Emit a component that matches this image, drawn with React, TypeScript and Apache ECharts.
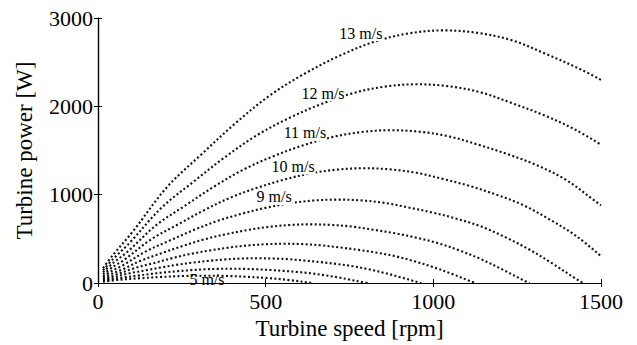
import React, { useEffect, useRef } from "react";
import * as echarts from "echarts";

// Wind-speed curves: [turbine speed (rpm), turbine power (W)]
const curve13: [number, number][] = [[15,170],[45,320],[103,580],[206,1087],[309,1459],[412,1816],[515,2131],[618,2374],[721,2574],[824,2731],[927,2826],[1030,2860],[1133,2831],[1236,2746],[1339,2588],[1442,2414],[1500,2300]];
const curve12: [number, number][] = [[15,145],[45,272],[95,458],[190,855],[285,1148],[380,1429],[475,1676],[570,1868],[665,2025],[760,2149],[855,2223],[950,2250],[1045,2228],[1140,2160],[1235,2036],[1330,1900],[1425,1733],[1500,1565]];
const curve11: [number, number][] = [[15,122],[45,228],[87,352],[174,657],[262,882],[349,1099],[436,1289],[523,1436],[610,1557],[698,1652],[785,1709],[872,1730],[959,1713],[1046,1661],[1134,1566],[1221,1460],[1308,1335],[1395,1170],[1482,930],[1500,880]];
const curve10: [number, number][] = [[15,100],[45,185],[79,266],[158,494],[238,663],[317,826],[396,969],[475,1079],[554,1170],[634,1242],[713,1284],[792,1300],[871,1287],[950,1248],[1030,1177],[1109,1098],[1188,1001],[1267,884],[1346,722],[1426,533],[1500,305]];
const curve9: [number, number][] = [[15,80],[45,146],[71,195],[143,359],[214,482],[285,600],[357,704],[428,784],[499,851],[570,902],[642,934],[713,945],[784,936],[856,907],[927,855],[998,798],[1070,728],[1141,643],[1212,524],[1283,387],[1355,222],[1426,47],[1447,0]];
const curve8: [number, number][] = [[15,63],[45,112],[75,158],[127,253],[190,339],[254,422],[317,495],[380,552],[444,599],[507,635],[571,657],[634,665],[697,658],[761,638],[824,602],[888,562],[951,512],[1014,452],[1078,369],[1141,273],[1205,156],[1268,33],[1287,0]];
const curve7: [number, number][] = [[15,48],[45,84],[111,172],[167,227],[222,283],[278,332],[333,369],[389,401],[444,425],[500,440],[555,445],[611,441],[666,427],[722,403],[777,376],[833,343],[888,303],[944,247],[999,182],[1055,105],[1110,22],[1127,0]];
const curve6: [number, number][] = [[15,34],[45,64],[95,112],[143,145],[190,178],[238,209],[285,233],[333,253],[380,268],[428,278],[475,281],[523,278],[570,270],[618,254],[665,237],[713,216],[760,191],[808,156],[855,115],[903,66],[950,14],[964,0]];
const curve5: [number, number][] = [[15,24],[45,45],[79,65],[119,85],[158,104],[198,121],[238,135],[277,147],[317,156],[356,161],[396,163],[436,161],[475,156],[515,148],[554,138],[594,126],[634,111],[673,90],[713,67],[752,38],[792,8],[804,0]];
const curve4: [number, number][] = [[15,15],[63,38],[127,55],[190,70],[254,80],[317,84],[380,81],[444,71],[507,57],[571,34],[634,4],[644,0]];

const curveNames = ["13 m/s", "12 m/s", "11 m/s", "10 m/s", "9 m/s", "8 m/s", "7 m/s", "6 m/s", "5 m/s", "4 m/s"];
const curves = [curve13, curve12, curve11, curve10, curve9, curve8, curve7, curve6, curve5, curve4];

// Curve annotations (text, rpm, W) — anchor is the text's centre
const labelTexts = ["13 m/s", "12 m/s", "11 m/s", "10 m/s", "9 m/s", "5 m/s"];
const labelRpm = [784, 671, 617, 582, 525, 325];
const labelPower = [2830, 2150, 1700, 1320, 975, 45];

const xTicks = [0, 500, 1000, 1500];
const yTicks = [0, 1000, 2000, 3000];

const FONT = "Liberation Serif";

export default function App() {
  const ref = useRef<HTMLDivElement>(null);
  useEffect(() => {
    if (!ref.current) return;
    const chart = echarts.init(ref.current, undefined, { renderer: "svg" });
    const axisLine = { show: true, lineStyle: { color: "#000", width: 1.2 } };
    const tickIn = { show: true, inside: true, length: 4, lineStyle: { color: "#000", width: 1 } };
    const plain = (v: number) => String(v);
    const lineSeries = curves.map((c, i) => ({
      type: "line",
      name: curveNames[i],
      data: c,
      showSymbol: false,
      smooth: 0.35,
      silent: true,
      lineStyle: { color: "#111", width: 2.1, type: [2, 2.4], cap: "butt" },
      z: 2,
    }));
    chart.setOption({
      animation: false,
      backgroundColor: "#fff",
      textStyle: { fontFamily: FONT },
      grid: { left: 98, right: 36, top: 18, bottom: 58, containLabel: false },
      xAxis: [
        {
          type: "value",
          min: xTicks[0],
          max: xTicks[xTicks.length - 1],
          interval: xTicks[1] - xTicks[0],
          name: "Turbine speed [rpm]",
          nameLocation: "middle",
          nameGap: 29,
          nameTextStyle: { fontFamily: FONT, fontSize: 23, color: "#000" },
          axisLine,
          axisTick: tickIn,
          axisLabel: { fontFamily: FONT, fontSize: 22, color: "#000", margin: 7, formatter: plain },
          splitLine: { show: false },
        },
        {
          type: "value",
          position: "top",
          min: xTicks[0],
          max: xTicks[xTicks.length - 1],
          interval: xTicks[1] - xTicks[0],
          axisLine,
          axisTick: tickIn,
          axisLabel: { show: false },
          splitLine: { show: false },
        },
      ],
      yAxis: [
        {
          type: "value",
          min: yTicks[0],
          max: yTicks[yTicks.length - 1],
          interval: yTicks[1] - yTicks[0],
          name: "Turbine power [W]",
          nameLocation: "middle",
          nameGap: 62,
          nameTextStyle: { fontFamily: FONT, fontSize: 23, color: "#000" },
          axisLine,
          axisTick: tickIn,
          axisLabel: { fontFamily: FONT, fontSize: 22, color: "#000", margin: 5, formatter: plain },
          splitLine: { show: false },
        },
        {
          type: "value",
          position: "right",
          min: yTicks[0],
          max: yTicks[yTicks.length - 1],
          interval: yTicks[1] - yTicks[0],
          axisLine,
          axisTick: tickIn,
          axisLabel: { show: false },
          splitLine: { show: false },
        },
      ],
      series: lineSeries,
    });
    const graphics = labelTexts.map((t, i) => {
      const p = chart.convertToPixel({ gridIndex: 0 }, [labelRpm[i], labelPower[i]]) as number[];
      const last = i === labelTexts.length - 1;
      return {
        type: "text",
        x: p[0],
        y: p[1],
        z: 100,
        style: {
          text: t,
          fontFamily: FONT,
          fontSize: 16,
          fill: "#000",
          align: "center",
          verticalAlign: "middle",
          backgroundColor: last ? undefined : "#fff",
          padding: [0, 1],
        },
      };
    });
    chart.setOption({ graphic: graphics });
    return () => chart.dispose();
  }, []);
  return <div ref={ref} style={{ width: 637, height: 345, position: "absolute", left: 0, top: 0 }} />;
}
